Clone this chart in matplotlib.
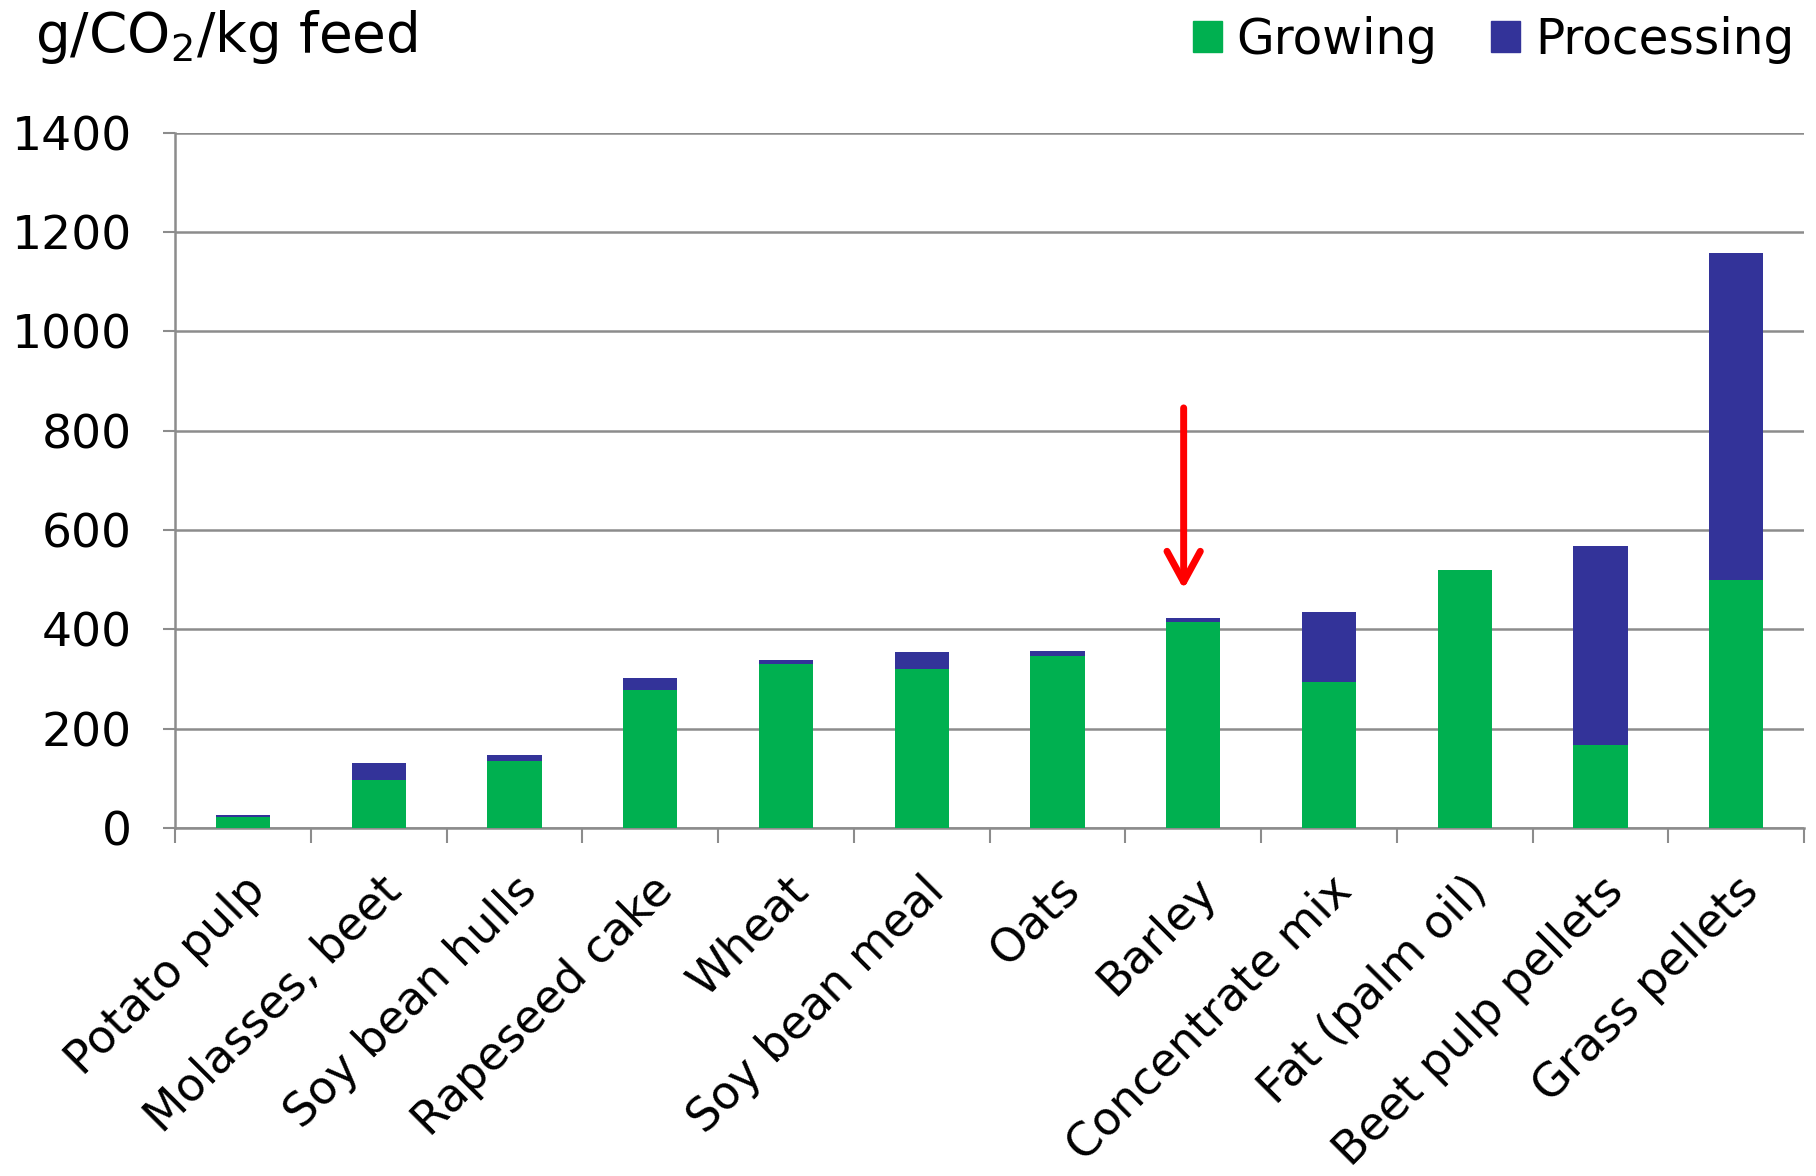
import matplotlib
matplotlib.use("Agg")
import matplotlib.pyplot as plt
from matplotlib.patches import Patch
import numpy as np

categories = ["Potato pulp", "Molasses, beet", "Soy bean hulls", "Rapeseed cake", "Wheat",
              "Soy bean meal", "Oats", "Barley", "Concentrate mix", "Fat (palm oil)",
              "Beet pulp pellets", "Grass pellets"]
growing = [22, 97, 134, 277, 330, 321, 347, 414, 293, 519, 168, 500]
processing = [4, 33, 12, 24, 9, 34, 9, 9, 141, 0, 400, 658]
yticks = [0, 200, 400, 600, 800, 1000, 1200, 1400]
arrow_from = 846
arrow_to = 481
arrow_cat = "Barley"

GREEN = "#00B050"
BLUE = "#333399"
GRID = "#8c8c8c"

plt.rcParams['font.family'] = ['DejaVu Sans']
fig = plt.figure(figsize=(18.16, 11.76), dpi=100)
ax = fig.add_axes([0.0964, 0.296, 0.897, 0.591])

x = np.arange(len(categories))
w = 0.4
ax.bar(x, growing, width=w, color=GREEN, zorder=3)
ax.bar(x, processing, width=w, bottom=growing, color=BLUE, zorder=3)

ax.set_xlim(-0.5, len(categories) - 0.5)
ax.set_ylim(0, 1400)
ax.set_yticks(yticks)
ax.set_yticklabels([str(v) for v in yticks], fontsize=34)
ax.yaxis.grid(True, color=GRID, linewidth=1.8, zorder=0)
ax.tick_params(axis='y', length=9, width=1.5, color=GRID, pad=22)

ax.set_xticks(x)
ax.set_xticklabels(categories, rotation=45, ha='right', rotation_mode='anchor', fontsize=33)
ax.tick_params(axis='x', which='major', length=0, pad=29)
ax.set_xticks(np.arange(-0.5, len(categories), 1), minor=True)
ax.tick_params(axis='x', which='minor', length=11, width=1.5, color=GRID)

for s in ['top', 'right']:
    ax.spines[s].set_visible(False)
for s in ['left', 'bottom']:
    ax.spines[s].set_color(GRID)
    ax.spines[s].set_linewidth(1.8)

bi = categories.index(arrow_cat)
ax.annotate("", xy=(bi - 0.07, arrow_to), xytext=(bi - 0.07, arrow_from),
            arrowprops=dict(arrowstyle="->,head_length=2.2,head_width=1.2", color="red", lw=5,
                            shrinkA=0, shrinkB=0),
            zorder=5)

fig.text(0.019, 0.993, "g/CO$_2$/kg feed", fontsize=39.5, va='top', ha='left')

handles = [Patch(color=GREEN, label="Growing"), Patch(color=BLUE, label="Processing")]
fig.legend(handles=handles, loc='upper right', bbox_to_anchor=(1.012, 1.024), ncol=2,
           frameon=False, fontsize=35, handlelength=0.6, handleheight=0.6,
           handletextpad=0.3, columnspacing=1.1)

fig.savefig("out.png", dpi=100)
